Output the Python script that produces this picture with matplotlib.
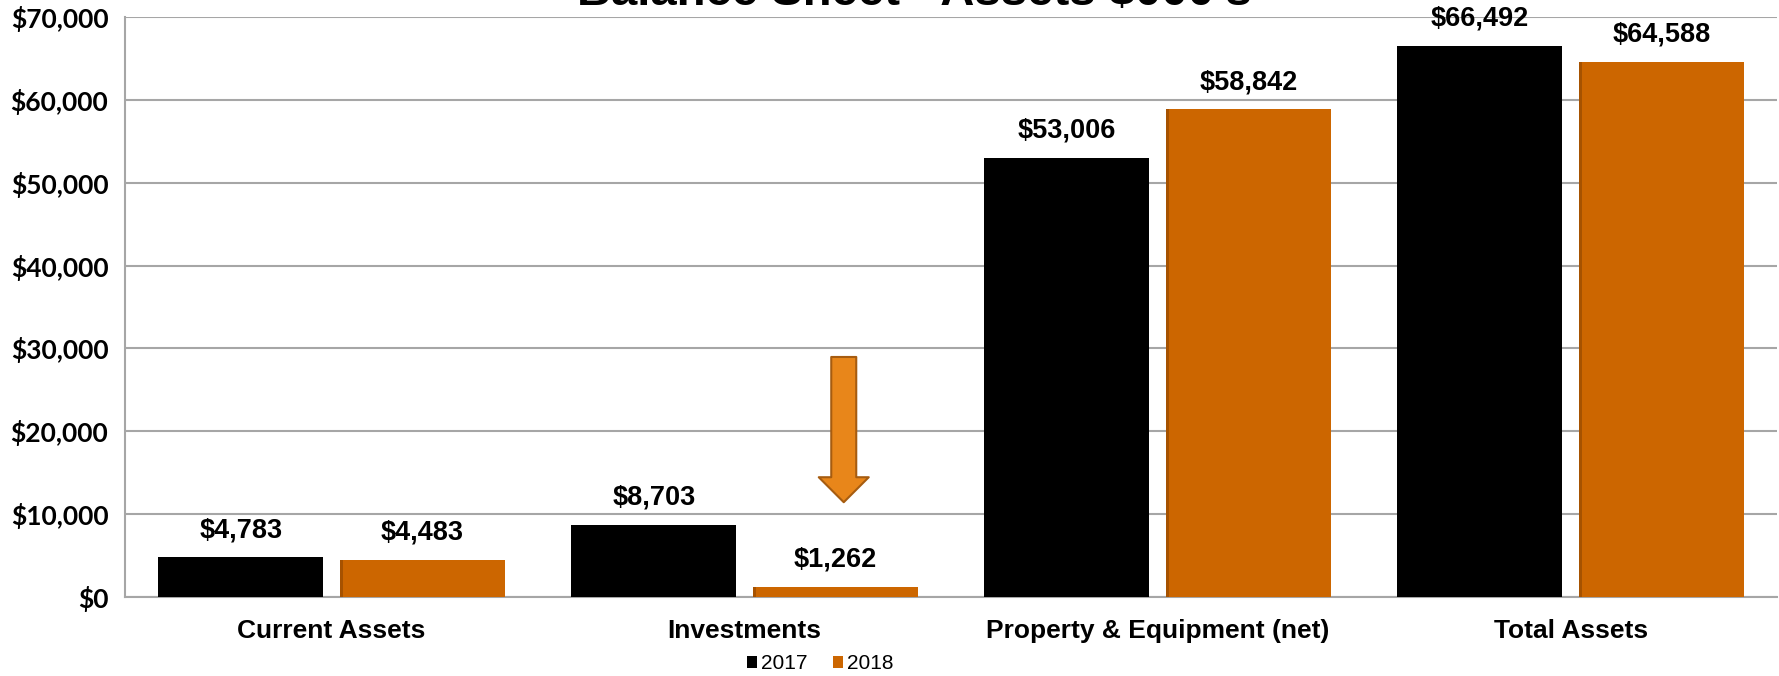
import matplotlib.pyplot as plt
import numpy as np
from matplotlib.ticker import FuncFormatter, MultipleLocator

categories = ["Current Assets", "Investments", "Property & Equipment (net)", "Total Assets"]
years = ["2017", "2018"]
assets_2017 = [4783, 8703, 53006, 66492]
assets_2018 = [4483, 1262, 58842, 64588]

title = "Balance Sheet - Assets $000's"
colors = ["#000000", "#CC6600"]

fig = plt.figure(figsize=(17.79, 6.76), dpi=100)
ax = fig.add_axes([0.0703, 0.1169, 0.9287, 0.858])

x = np.arange(len(categories))
w = 0.40
off = 0.22

bars = []
for i, (vals, c, yr) in enumerate(zip([assets_2017, assets_2018], colors, years)):
    b = ax.bar(x + (i * 2 - 1) * off, vals, w, color=c, label=yr, zorder=3)
    bars.append(b)
    for rect, v in zip(b, vals):
        ax.text(rect.get_x() + rect.get_width() / 2, v + 1700, "${:,}".format(v),
                ha="center", va="bottom", fontsize=19.5, fontweight="bold",
                family="Liberation Sans", color="black")

# slight darker left edge on the orange bars
for rect in bars[1]:
    ax.bar(rect.get_x() + 0.004, rect.get_height(), 0.008, color="#A65200",
           zorder=4, linewidth=0)

ax.set_xlim(-0.5, 3.5)
ax.set_ylim(0, 70000)
ax.yaxis.set_major_locator(MultipleLocator(10000))
ax.yaxis.set_major_formatter(FuncFormatter(lambda v, p: "${:,.0f}".format(v)))
ax.grid(axis="y", color="#A6A6A6", linewidth=1.5, zorder=0)
ax.set_xticks(x)
ax.set_xticklabels(categories, fontsize=19, fontweight="bold", family="Liberation Sans")
ax.tick_params(axis="x", length=0, pad=16)
ax.tick_params(axis="y", length=0, pad=12)
for lab in ax.get_yticklabels():
    lab.set_fontfamily("Lato")
    lab.set_fontweight("bold")
    lab.set_fontsize(19)

for s in ["top", "right"]:
    ax.spines[s].set_visible(False)
for s in ["left", "bottom"]:
    ax.spines[s].set_color("#A6A6A6")
    ax.spines[s].set_linewidth(1.5)

# arrow pointing at the drop in investments
ax.annotate("", xy=(1.24, 11100), xytext=(1.24, 29300),
            arrowprops=dict(arrowstyle="simple,head_length=1.0,head_width=2.0,tail_width=1.0",
                            fc="#E8861A", ec="#A65C10", lw=1.5, mutation_scale=18),
            zorder=5)

fig.text(0.514, 1 - 5 / 676, title, ha="center", va="baseline", fontsize=34,
         fontweight="bold", family="Liberation Sans")

leg = fig.legend(loc="center", bbox_to_anchor=(0.461, 0.018), ncol=2, frameon=False,
                 prop={"family": "Liberation Sans", "size": 15}, handlelength=0.5,
                 handleheight=0.5, handletextpad=0.2, columnspacing=1.2)

fig.savefig("out.png", dpi=100)
